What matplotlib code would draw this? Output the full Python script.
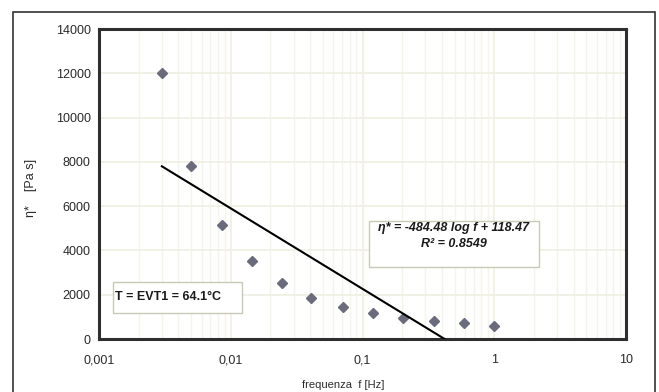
import numpy as np
import matplotlib.pyplot as plt
from matplotlib.patches import Rectangle
from matplotlib.ticker import FixedLocator, FixedFormatter, LogLocator, NullFormatter

plt.rcParams['font.family'] = ['Liberation Sans', 'DejaVu Sans']

# dati
freq = [0.003, 0.005, 0.0086, 0.0145, 0.0245, 0.041, 0.071, 0.12, 0.203, 0.35, 0.59, 1.0]
eta = [12000, 7800, 5150, 3520, 2530, 1850, 1450, 1170, 950, 810, 720, 590]

trend_f = [0.003, 0.42]
trend_eta = [7800, 0]

x_ticks = [0.001, 0.01, 0.1, 1, 10]
x_labels = ['0,001', '0,01', '0,1', '1', '10']
y_ticks = [0, 2000, 4000, 6000, 8000, 10000, 12000, 14000]

fig = plt.figure(figsize=(6.59, 3.92), dpi=100)
ax = fig.add_axes([99 / 659, 53 / 392, 527 / 659, 310 / 392])

ax.set_xscale('log')
ax.set_xlim(0.001, 10)
ax.set_ylim(0, 14000)

ax.xaxis.set_major_locator(FixedLocator(x_ticks))
ax.xaxis.set_major_formatter(FixedFormatter(x_labels))
ax.xaxis.set_minor_locator(LogLocator(base=10, subs=np.arange(2, 10)))
ax.xaxis.set_minor_formatter(NullFormatter())
ax.set_yticks(y_ticks)
ax.set_yticklabels([str(v) for v in y_ticks])

ax.grid(True, which='major', color='#efefe2', lw=1.2)
ax.grid(True, which='minor', axis='x', color='#f4f4ea', lw=1.0)
ax.set_axisbelow(True)

ax.tick_params(axis='both', which='both', length=0, labelsize=9, colors='#2a2a2a')
ax.tick_params(axis='x', pad=11)
ax.tick_params(axis='y', pad=6)

for s in ax.spines.values():
    s.set_linewidth(2.2)
    s.set_color('#2e2e2e')

ax.plot(freq, eta, linestyle='none', marker='D', markersize=5.5, color='#6b6b7b', zorder=3)
ax.plot(trend_f, trend_eta, color='black', lw=1.5, zorder=3)

# riquadro temperatura
ax.add_patch(Rectangle((14 / 527, 26 / 310), 129 / 527, 31 / 310, transform=ax.transAxes,
                       facecolor='white', edgecolor='#c9c9b8', lw=1, zorder=4))
ax.text(16 / 527, 41.5 / 310, 'T = EVT1 = 64.1°C', transform=ax.transAxes, fontsize=9,
        fontweight='bold', color='#1a1a1a', ha='left', va='center', zorder=5)

# riquadro equazione
ax.add_patch(Rectangle((270 / 527, 72 / 310), 170 / 527, 46 / 310, transform=ax.transAxes,
                       facecolor='white', edgecolor='#c9c9b8', lw=1, zorder=4))
ax.text(355 / 527, 111 / 310, 'η* = -484.48 log f + 118.47', transform=ax.transAxes,
        fontsize=9, fontweight='bold', fontstyle='italic', color='#1a1a1a',
        ha='center', va='center', zorder=5)
ax.text(355 / 527, 95 / 310, 'R² = 0.8549', transform=ax.transAxes,
        fontsize=9, fontweight='bold', fontstyle='italic', color='#1a1a1a',
        ha='center', va='center', zorder=5)

fig.text(343 / 659, 1 - 385 / 392, 'frequenza  f [Hz]', fontsize=8, color='#2a2a2a',
         ha='center', va='center')
fig.text(31 / 659, 1 - 188 / 392, 'η*    [Pa s]', fontsize=9, color='#2a2a2a',
         rotation=90, ha='center', va='center')

# cornice esterna
fig.add_artist(Rectangle((13 / 659, -0.05), 642 / 659, 1.05 - 12 / 392, transform=fig.transFigure,
                         facecolor='none', edgecolor='#333333', lw=1.2, clip_on=False))

fig.savefig('out.png', dpi=100)
